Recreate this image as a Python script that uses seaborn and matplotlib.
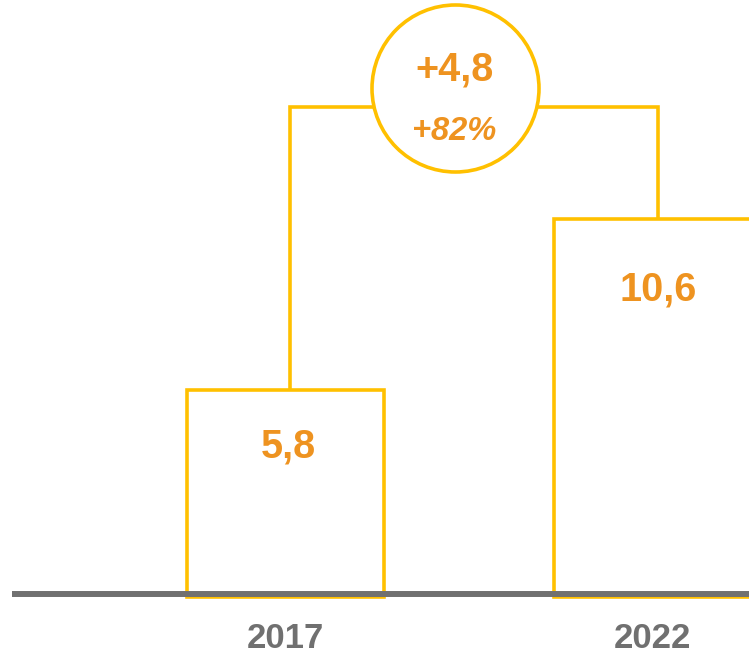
import matplotlib
matplotlib.use("Agg")
import matplotlib.pyplot as plt
import seaborn as sns
import pandas as pd

years = ["2017", "2022"]
values = [5.8, 10.6]
value_labels = ["5,8", "10,6"]
delta_label = "+4,8"
pct_label = "+82%"

YELLOW = "#FFC000"
ORANGE = "#EE9320"
GRAY = "#707070"

sns.set_theme(style="white")
plt.rcParams["font.family"] = ["Liberation Sans", "DejaVu Sans"]

W, H = 749, 656
fig = plt.figure(figsize=(W / 100, H / 100), dpi=100)
ax = fig.add_axes([0, 0, 1, 1])

df = pd.DataFrame({"year": years, "value": values})
sns.barplot(data=df, x="year", y="value", color="white", saturation=1,
            edgecolor=YELLOW, linewidth=2.6, width=0.537, ax=ax, zorder=2)

# pixel mapping
x0_px, x_unit = 285.5, 367.0
base_px = 597.0
scale = (base_px - 219) / values[1]
ax.set_xlim(-x0_px / x_unit, (W - x0_px) / x_unit)
ax.set_ylim(-(H - base_px) / scale, base_px / scale)

def yv(py):
    return (base_px - py) / scale

def xv(px):
    return (px - x0_px) / x_unit

# baseline
ax.plot([xv(12), xv(W + 5)], [yv(594), yv(594)], color=GRAY, lw=4.3,
        solid_capstyle="butt", zorder=3)

# bracket
bx0, bx1 = xv(290), xv(658)
ytop = yv(107)
ax.plot([bx0, bx0, bx1, bx1], [values[0], ytop, ytop, values[1]],
        color=YELLOW, lw=2.6, zorder=1, solid_joinstyle="miter")

# circle (marker in points)
cx, cy = xv(454.5), yv(88)
ax.plot([cx], [cy], marker="o", markersize=167 * 0.72, markerfacecolor="white",
        markeredgecolor=YELLOW, markeredgewidth=2.6, zorder=4)
ax.text(cx, yv(69), delta_label, ha="center", va="center", color=ORANGE,
        fontsize=28.5, fontweight="bold", zorder=5)
ax.text(cx, yv(132), pct_label, ha="center", va="center", color=ORANGE,
        fontsize=23.5, fontweight="bold", fontstyle="italic", zorder=5)

# value labels
ax.text(xv(288), yv(447), value_labels[0], ha="center", va="center",
        color=ORANGE, fontsize=28.5, fontweight="bold", zorder=5)
ax.text(xv(658), yv(289), value_labels[1], ha="center", va="center",
        color=ORANGE, fontsize=28.5, fontweight="bold", zorder=5)

# year labels
for i, yr in enumerate(years):
    ax.text(i, yv(639), yr, ha="center", va="center", color=GRAY,
            fontsize=25, fontweight="bold")

ax.set_axis_off()
fig.savefig("out.png", dpi=100)
